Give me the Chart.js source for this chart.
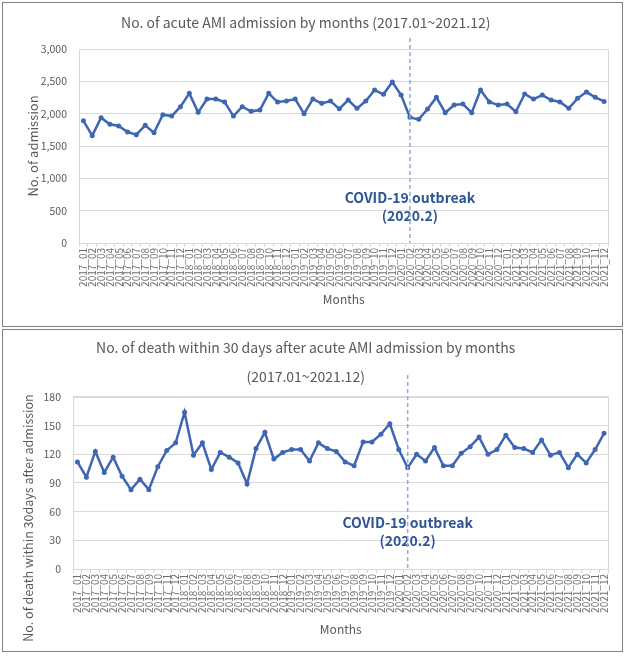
<!DOCTYPE html>
<html>
<head>
<meta charset="utf-8">
<script src="https://cdn.jsdelivr.net/npm/chart.js@4.4.0/dist/chart.umd.min.js"></script>
<style>
  body { margin: 0; background: #fff; }
  .panel { position: absolute; left: 2px; width: 619px; border: 1px solid #7f7f7f; background: #fff; }
  #p1 { top: 2px; height: 323px; }
  #p2 { top: 329px; height: 321px; }
  canvas { display: block; }
</style>
</head>
<body>
<div class="panel" id="p1"><canvas id="c1" width="619" height="323"></canvas></div>
<div class="panel" id="p2"><canvas id="c2" width="619" height="321"></canvas></div>

<script>
// months 2017_01 ... 2021_12
var years = ['2017', '2018', '2019', '2020', '2021'];
var monthNames = ['01', '02', '03', '04', '05', '06', '07', '08', '09', '10', '11', '12'];
var months = [];
years.forEach(function (y) {
    monthNames.forEach(function (m) { months.push(y + '_' + m); });
});

// monthly acute AMI admissions
var admissions = [
    1890, 1660, 1937, 1835, 1809, 1716, 1675, 1819, 1706, 1984, 1963, 2108,
    2314, 2020, 2226, 2226, 2180, 1963, 2108, 2036, 2056, 2314, 2180, 2195,
    2226, 1999, 2226, 2160, 2195, 2075, 2211, 2082, 2195, 2365, 2299, 2489,
    2288, 1943, 1912, 2072, 2252, 2015, 2133, 2149, 2015, 2365, 2180, 2133,
    2149, 2030, 2304, 2226, 2288, 2211, 2180, 2082, 2237, 2334, 2252, 2190
];

// deaths within 30 days after admission
var deaths = [
    112, 96, 123, 101, 117, 97, 83, 94, 83, 107, 124, 132,
    164, 119, 132, 104, 122, 117, 111, 89, 126, 143, 115, 122,
    125, 125, 113, 132, 126, 123, 112, 108, 133, 133, 141, 152,
    125, 106, 120, 113, 127, 108, 108, 121, 128, 138, 120, 125,
    140, 127, 126, 122, 135, 119, 122, 106, 120, 111, 125, 142
];

var admissionTicks = [0, 500, 1000, 1500, 2000, 2500, 3000];
var deathTicks = [0, 30, 60, 90, 120, 150, 180];

var covidLabel = '2020_02';
var covidText = ['COVID-19 outbreak', '(2020.2)'];

var FONT = "'Noto Sans CJK KR', 'Noto Sans', sans-serif";
var GREY = '#595959';
var LINE = '#3f66b3';

// plot frame, covid label, dashed covid line, y axis title
var covidPlugin = {
    id: 'covid',
    beforeDatasetsDraw: function (chart) {
        var ctx = chart.ctx, a = chart.chartArea;
        ctx.save();
        ctx.strokeStyle = '#d9d9d9';
        ctx.lineWidth = 1;
        ctx.strokeRect(Math.round(a.left) + 0.5, Math.round(a.top) + 0.5,
            Math.round(a.right - a.left) - 1, Math.round(a.bottom - a.top));
        ctx.restore();
    },
    afterDatasetsDraw: function (chart, args, opts) {
        var ctx = chart.ctx, a = chart.chartArea;
        var x = chart.scales.x.getPixelForValue(months.indexOf(covidLabel));
        var y = chart.scales.y.getPixelForValue(opts.textAt);
        ctx.save();
        ctx.fillStyle = '#2f5597';
        ctx.font = 'bold 14px ' + FONT;
        ctx.textAlign = 'center';
        ctx.textBaseline = 'middle';
        ctx.fillText(covidText[0], x, y);
        ctx.fillText(covidText[1], x, y + 18);

        ctx.strokeStyle = '#8faadc';
        ctx.lineWidth = 1.5;
        ctx.setLineDash([4, 3]);
        ctx.beginPath();
        ctx.moveTo(x, a.top - opts.above);
        ctx.lineTo(x, a.bottom);
        ctx.stroke();
        ctx.restore();
    },
    afterDraw: function (chart, args, opts) {
        // y title, Excel puts it a bit off the plot centre
        var ctx = chart.ctx, a = chart.chartArea;
        ctx.save();
        ctx.translate(opts.yTitleX, (a.top + a.bottom) / 2 + opts.yTitleShift);
        ctx.rotate(-Math.PI / 2);
        ctx.fillStyle = GREY;
        ctx.font = opts.yTitleSize + 'px ' + FONT;
        ctx.textAlign = 'center';
        ctx.textBaseline = 'middle';
        ctx.fillText(opts.yTitle, 0, 0);
        ctx.restore();
    }
};

function makeChart(id, data, ticks, opt) {
    return new Chart(document.getElementById(id), {
        type: 'line',
        data: {
            labels: months,
            datasets: [{
                data: data,
                borderColor: LINE,
                backgroundColor: LINE,
                borderWidth: 2.5,
                pointRadius: 2.5,
                pointBorderWidth: 0,
                tension: 0
            }]
        },
        options: {
            responsive: false,
            animation: false,
            layout: { padding: { left: 0, right: 13.5, top: 0, bottom: 0 } },
            plugins: {
                legend: { display: false },
                tooltip: { enabled: false },
                title: {
                    display: true,
                    text: opt.title,
                    color: GREY,
                    font: { family: FONT, size: 14, weight: 'normal', lineHeight: opt.titleLine },
                    padding: opt.titlePad
                },
                covid: {
                    above: opt.above, textAt: opt.textAt,
                    yTitle: opt.yTitle, yTitleSize: opt.yTitleSize,
                    yTitleX: opt.yTitleX, yTitleShift: opt.yTitleShift
                }
            },
            scales: {
                x: {
                    offset: true,
                    afterFit: function (s) { s.height = opt.xHeight; },
                    grid: { drawOnChartArea: false, color: '#d9d9d9', tickLength: 4, offset: true },
                    border: { color: '#d9d9d9' },
                    ticks: {
                        autoSkip: false, maxRotation: 90, minRotation: 90,
                        color: '#6f6f6f', padding: 1,
                        font: { family: FONT, size: 10 }
                    },
                    title: {
                        display: true, text: 'Months', color: GREY,
                        font: { family: FONT, size: 12 },
                        padding: { top: 0, bottom: opt.xTitleBottom }
                    }
                },
                y: {
                    min: ticks[0],
                    max: ticks[ticks.length - 1],
                    afterFit: function (s) { s.width = opt.yWidth; },
                    afterBuildTicks: function (s) {
                        s.ticks = ticks.map(function (v) { return { value: v }; });
                    },
                    grid: { color: '#d9d9d9', drawTicks: false },
                    border: { display: false },
                    ticks: {
                        color: GREY, padding: 12,
                        font: { family: FONT, size: 10.5 },
                        callback: function (v) { return v.toLocaleString('en-US'); }
                    }
                }
            }
        },
        plugins: [covidPlugin]
    });
}

makeChart('c1', admissions, admissionTicks, {
    title: 'No. of acute AMI admission by months (2017.01~2021.12)',
    titleLine: 1.2,
    titlePad: { top: 11.6, bottom: 17.6 },
    yTitle: 'No. of admission',
    yTitleSize: 13,
    yTitleX: 30,
    yTitleShift: 0,
    yWidth: 76,
    xHeight: 83,
    xTitleBottom: 19,
    above: 11,
    textAt: 700
});

makeChart('c2', deaths, deathTicks, {
    title: ['No. of death within 30 days after acute AMI admission by months', '(2017.01~2021.12)'],
    titleLine: 2.07,
    titlePad: { top: 3.5, bottom: 5.5 },
    yTitle: 'No. of death within 30days after admission',
    yTitleSize: 12.5,
    yTitleX: 25,
    yTitleShift: 35,
    yWidth: 70,
    xHeight: 82,
    xTitleBottom: 14,
    above: 22,
    textAt: 48
});
</script>
</body>
</html>
